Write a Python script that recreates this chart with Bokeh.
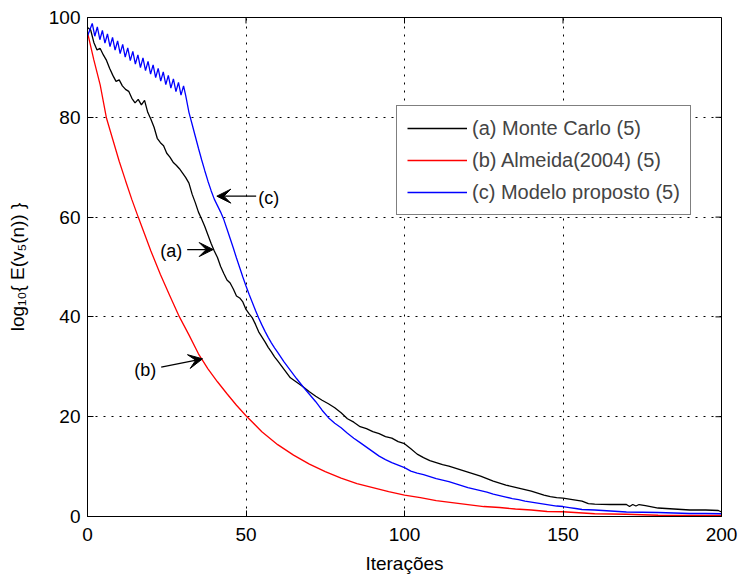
from bokeh.plotting import figure
from bokeh.models import Range1d, FixedTicker, Legend, LegendItem, Arrow, VeeHead, Label
from bokeh.embed import file_html
from bokeh.resources import INLINE

# ---------------- data ----------------
x_ticks = [0, 50, 100, 150, 200]
y_ticks = [0, 20, 40, 60, 80, 100]

mc_x = [0, 1, 2, 3, 4, 5, 6, 7, 8, 9, 10, 11, 12, 13, 14, 15, 16, 17, 18, 19,
        20, 21, 22, 23, 24, 25, 26, 27, 28, 29, 30, 31, 32, 33, 34, 35, 36, 37, 38, 39,
        40, 41, 42, 43, 44, 45, 46, 47, 48, 49, 50, 51, 52, 53, 54, 55, 56, 57, 58, 59,
        60, 62, 64, 66, 68, 70, 72, 74, 76, 78, 80, 82, 84, 86, 88, 90, 92, 94, 96, 98,
        100, 102, 104, 106, 108, 110, 112, 114, 116, 118, 120, 122, 124, 126, 128, 130,
        132, 134, 136, 138, 140, 142, 144, 146, 148, 150, 152, 154, 156, 158, 160, 165,
        170, 171, 172, 173, 174, 176, 180, 185, 190, 195, 199, 200]
mc_y = [98.0, 97.5, 95.0, 93.5, 93.8, 92.5, 91.4, 89.8, 88.4, 87.2, 87.5, 86.3, 85.6, 85.2, 83.8, 82.9, 83.6, 82.5, 83.4, 81.0,
        79.6, 78.0, 75.8, 74.9, 74.3, 72.8, 72.0, 71.0, 70.4, 69.7, 68.8, 67.9, 66.8, 64.6, 62.9, 61.0, 59.6, 58.1, 56.4, 54.7,
        53.2, 51.9, 50.1, 48.7, 47.4, 46.8, 45.6, 44.2, 43.8, 43.0, 41.5, 40.6, 39.8, 38.5, 37.0, 36.0, 35.0, 33.9, 33.0, 32.0,
        31.2, 29.5, 27.8, 26.9, 26.0, 25.0, 24.1, 23.3, 22.6, 21.8, 20.8, 19.6, 18.9, 18.0, 17.6, 17.0, 16.6, 16.0, 15.7, 15.0,
        14.6, 13.6, 12.5, 11.8, 11.2, 10.8, 10.4, 10.1, 9.7, 9.3, 8.9, 8.5, 8.1, 7.6, 7.1, 6.7,
        6.3, 6.0, 5.7, 5.4, 5.1, 4.7, 4.3, 4.0, 3.8, 3.7, 3.5, 3.3, 3.1, 2.6, 2.5, 2.4,
        2.4, 2.0, 2.4, 2.1, 2.4, 2.2, 1.7, 1.5, 1.3, 1.3, 1.2, 0.9]

alm_x = [0, 2, 4, 6, 8, 10, 12, 14, 16, 18, 20, 23, 26, 29, 32, 35, 38, 41, 44, 47,
         50, 55, 60, 65, 70, 75, 80, 85, 90, 95, 100, 105, 110, 115, 120, 125, 130, 135,
         140, 145, 150, 155, 160, 170, 180, 190, 200]
alm_y = [97.0, 91.5, 86.5, 79.8, 75.5, 71.2, 67.3, 63.5, 60.0, 56.6, 53.2, 48.5, 44.2, 40.0, 36.4, 32.6, 29.6, 27.0, 24.6, 22.3,
         20.2, 17.0, 14.4, 12.3, 10.5, 9.0, 7.7, 6.6, 5.8, 5.0, 4.3, 3.8, 3.2, 2.8, 2.4, 2.0, 1.8, 1.5,
         1.3, 1.0, 0.95, 0.75, 0.55, 0.45, 0.25, 0.2, 0.2]

mod_x = [0, 1.5, 2.3, 3.1, 3.9, 4.7, 5.5, 6.3, 7.1, 7.9, 8.7, 9.5, 10.3, 11.1, 11.9, 12.7, 13.5, 14.3, 15.1, 15.9,
         16.7, 17.5, 18.3, 19.1, 19.9, 20.7, 21.5, 22.3, 23.1, 23.9, 24.7, 25.5, 26.3, 27.1, 27.9, 28.7, 29.5, 30.3,
         31, 32, 33, 34, 35, 36, 37, 38, 39, 40, 41, 42, 43, 44, 45, 46, 47, 48, 49, 50,
         51, 52, 53, 54, 55, 56, 57, 58, 59, 60, 62, 64, 66, 68, 70, 72, 74, 76, 78, 80,
         82, 84, 86, 88, 90, 92, 94, 96, 98, 100, 102, 104, 106, 108, 110, 112, 114, 116, 118, 120,
         122, 124, 126, 128, 130, 132, 134, 136, 138, 140, 142, 144, 146, 148, 150, 152, 154, 156, 160, 165,
         170, 175, 180, 185, 190, 195, 200]
mod_y = [96.3, 98.8, 96.25, 98.1, 95.55, 97.4, 94.85, 96.7, 94.15, 96.0, 93.45, 95.3, 92.75, 94.6, 92.05, 93.9, 91.35, 93.2, 90.65, 92.5,
         89.95, 91.9, 89.35, 91.2, 88.65, 90.5, 87.95, 89.8, 87.25, 89.1, 86.55, 88.4, 85.85, 87.7, 85.15, 87.0, 84.45, 86.3,
         84.3, 81.0, 78.6, 76.2, 73.8, 71.5, 69.3, 67.2, 65.3, 63.6, 62.3, 61.0, 59.5, 57.6, 55.7, 53.8, 51.8, 49.9, 48.0, 46.2,
         44.5, 42.9, 41.3, 39.8, 38.4, 37.1, 35.9, 34.8, 33.8, 32.9, 31.0, 29.3, 27.6, 26.0, 24.5, 23.0, 21.3, 19.8, 18.7, 17.8,
         16.7, 15.7, 14.8, 13.9, 13.0, 12.1, 11.4, 10.8, 10.3, 9.8, 9.1, 8.7, 8.4, 8.0, 7.6, 7.3, 7.0, 6.6, 6.2, 5.8,
         5.5, 5.2, 4.9, 4.5, 4.2, 3.9, 3.6, 3.4, 3.1, 2.9, 2.7, 2.5, 2.3, 2.1, 2.0, 1.8, 1.6, 1.4, 1.3, 1.1,
         0.9, 0.85, 0.8, 0.7, 0.6, 0.6, 0.55]

labels = ["(a) Monte Carlo (5)", "(b) Almeida(2004) (5)", "(c) Modelo proposto (5)"]
x_title = "Iterações"
y_title = "log₁₀{ E(v₅(n)) }"

FONT = "Liberation Sans"

p = figure(width=738, height=576, output_backend="svg", toolbar_location=None,
           x_range=Range1d(0, 200), y_range=Range1d(0, 100),
           min_border_left=87, min_border_right=17, min_border_top=17, min_border_bottom=60)
p.background_fill_color = "white"
p.border_fill_color = "white"
p.outline_line_color = "black"
p.outline_line_width = 1

for ax, ticks in ((p.xaxis[0], x_ticks), (p.yaxis[0], y_ticks)):
    ax.ticker = FixedTicker(ticks=ticks)
    ax.major_tick_in = 6
    ax.major_tick_out = 0
    ax.minor_tick_in = 0
    ax.minor_tick_out = 0
    ax.axis_line_color = "black"
    ax.major_tick_line_color = "black"
    ax.major_label_text_font = FONT
    ax.major_label_text_font_size = "19px"
    ax.major_label_text_color = "black"
    ax.axis_label_text_font = FONT
    ax.axis_label_text_font_size = "19px"
    ax.axis_label_text_font_style = "normal"
    ax.axis_label_text_color = "black"

p.xaxis.axis_label = x_title
p.xaxis.major_label_standoff = 11
p.xaxis.axis_label_standoff = 9
p.yaxis.axis_label = y_title
p.yaxis.major_label_standoff = 7
p.yaxis.axis_label_standoff = 18

# inward ticks on the top and right edges (MATLAB box style), length in data units
top_len = 1.2
right_len = 1.9
p.segment(x0=x_ticks, y0=[100] * len(x_ticks), x1=x_ticks, y1=[100 - top_len] * len(x_ticks),
          line_color="black", line_width=1)
p.segment(x0=[200] * len(y_ticks), y0=y_ticks, x1=[200 - right_len] * len(y_ticks), y1=y_ticks,
          line_color="black", line_width=1)

for g in (p.xgrid[0], p.ygrid[0]):
    g.grid_line_color = "black"
    g.grid_line_dash = "2 6"
    g.grid_line_width = 1
p.xgrid.ticker = FixedTicker(ticks=x_ticks)
p.ygrid.ticker = FixedTicker(ticks=y_ticks)

r_mc = p.line(mc_x, mc_y, line_color="black", line_width=1.3)
r_alm = p.line(alm_x, alm_y, line_color="#ff0000", line_width=1.3)
r_mod = p.line(mod_x, mod_y, line_color="#0000ff", line_width=1.3)

legend = Legend(items=[LegendItem(label=labels[0], renderers=[r_mc]),
                       LegendItem(label=labels[1], renderers=[r_alm]),
                       LegendItem(label=labels[2], renderers=[r_mod])],
                location=(309, 301), padding=10, spacing=8, margin=0,
                glyph_width=60, glyph_height=24, label_height=24, label_standoff=5,
                label_text_font=FONT, label_text_font_size="20px",
                border_line_color="black", border_line_width=1,
                background_fill_color="white", background_fill_alpha=1)
p.add_layout(legend)

def arrow(xs, ys, xe, ye):
    p.add_layout(Arrow(end=VeeHead(size=14, fill_color="black", line_color="black"),
                       x_start=xs, y_start=ys, x_end=xe, y_end=ye,
                       line_color="black", line_width=1.2))

def tag(x, y, t):
    p.add_layout(Label(x=x, y=y, text=t, text_font=FONT, text_font_size="18px",
                       text_align="center", text_baseline="middle", text_color="black"))

arrow(31.45, 53.5, 39.65, 53.5)
tag(26.4, 53.3, "(a)")
arrow(23.25, 29.95, 36.3, 31.6)
tag(18.2, 29.3, "(b)")
arrow(53.2, 64.2, 40.8, 64.2)
tag(57.2, 63.9, "(c)")

open("out.html", "w").write(file_html(p, INLINE))
